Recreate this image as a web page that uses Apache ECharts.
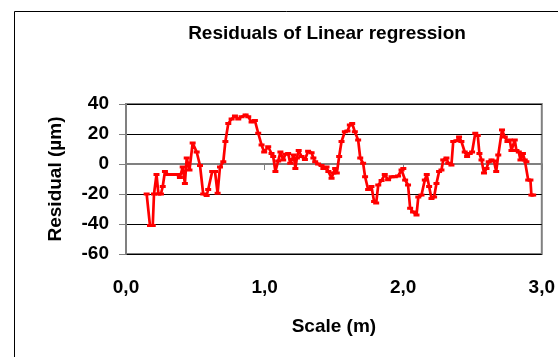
<!DOCTYPE html>
<html>
<head>
<meta charset="utf-8">
<script src="https://cdn.jsdelivr.net/npm/echarts@6/dist/echarts.min.js"></script>
<style>
  html, body { margin: 0; padding: 0; background: #fff; }
  #chart { width: 558px; height: 357px; }
</style>
</head>
<body>
<div id="chart"></div>
<script>
// scale position (m) and residual (µm)
var scaleM = [
  0.149, 0.173, 0.193, 0.202, 0.220, 0.234, 0.252, 0.265, 0.281, 0.303,
  0.324, 0.346, 0.368, 0.389, 0.409, 0.425, 0.438, 0.458, 0.481, 0.510,
  0.534, 0.557, 0.582, 0.593, 0.622, 0.642, 0.661, 0.678, 0.702, 0.717,
  0.738, 0.762, 0.786, 0.810, 0.834, 0.863, 0.882, 0.906, 0.930, 0.954,
  0.978, 0.997, 1.026, 1.050, 1.062, 1.078, 1.098, 1.114, 1.134, 1.150,
  1.170, 1.185, 1.197, 1.210, 1.222, 1.233, 1.246, 1.267, 1.291, 1.314,
  1.339, 1.352, 1.365, 1.386, 1.411, 1.424, 1.447, 1.460, 1.483, 1.496,
  1.509, 1.521, 1.538, 1.555, 1.579, 1.598, 1.615, 1.632, 1.651, 1.675,
  1.690, 1.711, 1.725, 1.747, 1.771, 1.790, 1.805, 1.820, 1.844, 1.867,
  1.891, 1.916, 1.939, 1.963, 1.988, 2.001, 2.014, 2.035, 2.050, 2.071,
  2.096, 2.109, 2.132, 2.156, 2.170, 2.187, 2.204, 2.223, 2.240, 2.259,
  2.276, 2.289, 2.312, 2.325, 2.348, 2.361, 2.384, 2.403, 2.420, 2.444,
  2.461, 2.480, 2.497, 2.520, 2.538, 2.550, 2.565, 2.583, 2.601, 2.617,
  2.637, 2.655, 2.671, 2.686, 2.713, 2.733, 2.752, 2.769, 2.781, 2.805,
  2.817, 2.834, 2.846, 2.864, 2.877, 2.889, 2.902, 2.918, 2.925, 2.938
];
var residual = [
  -20, -41, -41, -20, -7, -20, -20, -15, -5, -7,
  -7, -7, -7, -9, -2, -13, 4, -4, 14, 8,
  -1, -20, -21, -17, -5, -5, -19.5, -2, 1.5, 15,
  27, 30, 32, 30, 31.5, 32.7, 31.5, 28, 29, 20.5,
  12.7, 8, 11.5, 7, 5, -5, 2, 8, 2.7, 6.5,
  7, 0.5, 3, 6, -3, 4, 9, 5, 3, 8.5,
  7.5, 4, 1.5, 0, -1, -3, -2, -5, -9.5, -6,
  -3, -6, 5, 15, 21.5, 22, 26, 27, 21.5, 16,
  4, 0.5, -8.5, -17, -15, -25, -26, -14, -11, -7,
  -10.5, -8.5, -8.5, -8, -4, -3, -10.7, -14, -29.5, -32,
  -34, -22, -20.7, -10.7, -7, -15, -23, -22, -13, -5,
  -4, 2.7, 4, 0.5, -0.7, 15, 15.5, 18, 15, 8,
  5, 7, 8, 20.5, 19, 7, 2.7, -6, -3, 1.5,
  2.7, 2, -5, 6, 22.7, 18, 15, 16, 9, 16,
  9, 8, 2.7, 7, 2.7, 1.5, -10.7, -10.7, -20.7, -20.7
];
var xTicks = [0, 1, 2, 3];
var yTicks = [-60, -40, -20, 0, 20, 40];

var points = scaleM.map(function (x, i) { return [x, residual[i]]; });

var chart = echarts.init(document.getElementById('chart'));
var font = '"Liberation Sans", Arial, sans-serif';

var option = {
  animation: false,
  backgroundColor: '#fff',
  title: {
    text: 'Residuals of Linear regression',
    left: 322,
    top: 19,
    textAlign: 'center',
    textStyle: { fontFamily: font, fontSize: 19, fontWeight: 'bold', color: '#000' }
  },
  graphic: [{
    type: 'rect',
    shape: { x: 14.5, y: 11.5, width: 600, height: 400 },
    style: { fill: 'none', stroke: '#000', lineWidth: 1 },
    z: -1
  }],
  grid: {
    left: 126, right: 16, top: 104, bottom: 103,
    show: true, borderColor: '#808080', borderWidth: 2
  },
  xAxis: {
    type: 'value',
    min: xTicks[0], max: xTicks[xTicks.length - 1], interval: 1,
    name: 'Scale (m)',
    nameLocation: 'middle',
    nameGap: 63,
    nameTextStyle: { fontFamily: font, fontSize: 19, fontWeight: 'bold', color: '#000' },
    axisLine: { lineStyle: { color: '#808080', width: 2 } },
    axisTick: { length: 6, lineStyle: { color: '#808080' } },
    axisLabel: {
      margin: 24,
      fontFamily: font, fontSize: 19, fontWeight: 'bold', color: '#000',
      formatter: function (v) { return v.toFixed(1).replace('.', ','); }
    },
    splitLine: { show: false }
  },
  yAxis: {
    type: 'value',
    min: yTicks[0], max: yTicks[yTicks.length - 1], interval: 20,
    name: 'Residual (µm)',
    nameLocation: 'middle',
    nameGap: 61,
    nameRotate: 90,
    nameTextStyle: { fontFamily: font, fontSize: 19, fontWeight: 'bold', color: '#000' },
    axisLine: { show: true, lineStyle: { color: '#808080', width: 2 } },
    axisTick: { show: true, length: 7, lineStyle: { color: '#808080' } },
    axisLabel: {
      margin: 17,
      fontFamily: font, fontSize: 19, fontWeight: 'bold', color: '#000'
    },
    splitLine: { show: true, lineStyle: { color: '#000', width: 1 } }
  },
  series: [{
    type: 'line',
    data: points,
    symbol: 'rect',
    symbolSize: [6, 3],
    showAllSymbol: true,
    itemStyle: { color: '#ff0000' },
    lineStyle: { color: '#ff0000', width: 2.7 }
  }]
};

chart.setOption(option);
</script>
</body>
</html>
